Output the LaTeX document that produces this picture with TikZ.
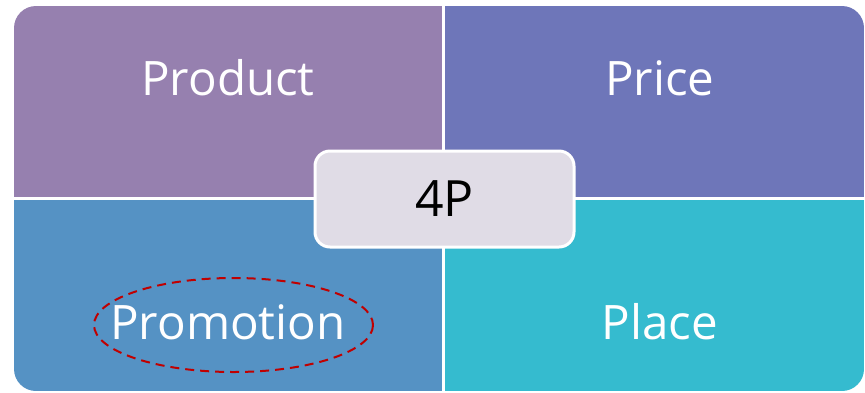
\documentclass[tikz,border=0pt]{standalone}
\usepackage{fontspec}
\setmainfont{Open Sans}
\definecolor{prodcol}{HTML}{9680AF}
\definecolor{pricecol}{HTML}{6E76B9}
\definecolor{promocol}{HTML}{5592C4}
\definecolor{placecol}{HTML}{35BBCF}
\definecolor{hubcol}{HTML}{E0DCE6}
\definecolor{ringcol}{HTML}{C00000}
\tikzset{
  quadlabel/.style={text=white,font=\fontsize{47.5}{52}\selectfont},
  divider/.style={white,line width=3pt}
}

\begin{document}
\begin{tikzpicture}[x=1pt,y=-1pt]
\useasboundingbox (0,0) rectangle (865,392);

\begin{scope}
\clip[rounded corners=22pt] (14,6) rectangle (864,391);
\fill[prodcol] (14,6) rectangle (443,198);
\fill[pricecol] (443,6) rectangle (864,198);
\fill[promocol] (14,198) rectangle (443,391);
\fill[placecol] (443,198) rectangle (864,391);
\end{scope}

\coordinate (vtop) at (443,6);
\coordinate (vbot) at (443,391);
\coordinate (hleft) at (14,198);
\coordinate (hright) at (864,198);
\draw[divider] (vtop) -- (vbot);
\draw[divider] (hleft) -- (hright);

\path (228,78) node[quadlabel] (product) {Product} ;
\path (660,78) node[quadlabel] (price) {Price} ;
\path (228,322) node[quadlabel] (promotion) {Promotion} ;
\path (660,322) node[quadlabel] (place) {Place} ;

\path (444.5,199) node[rectangle,rounded corners=15pt,draw=white,line width=3pt,fill=hubcol,
  minimum width=259pt,minimum height=96pt,font=\fontsize{50}{55}\selectfont] (hub) {4P} ;

\draw[ringcol,line width=2pt,dash pattern=on 9pt off 6pt] (promotion.center) ++(5.5,3) ellipse [x radius=139.5, y radius=47];

\end{tikzpicture}
\end{document}
